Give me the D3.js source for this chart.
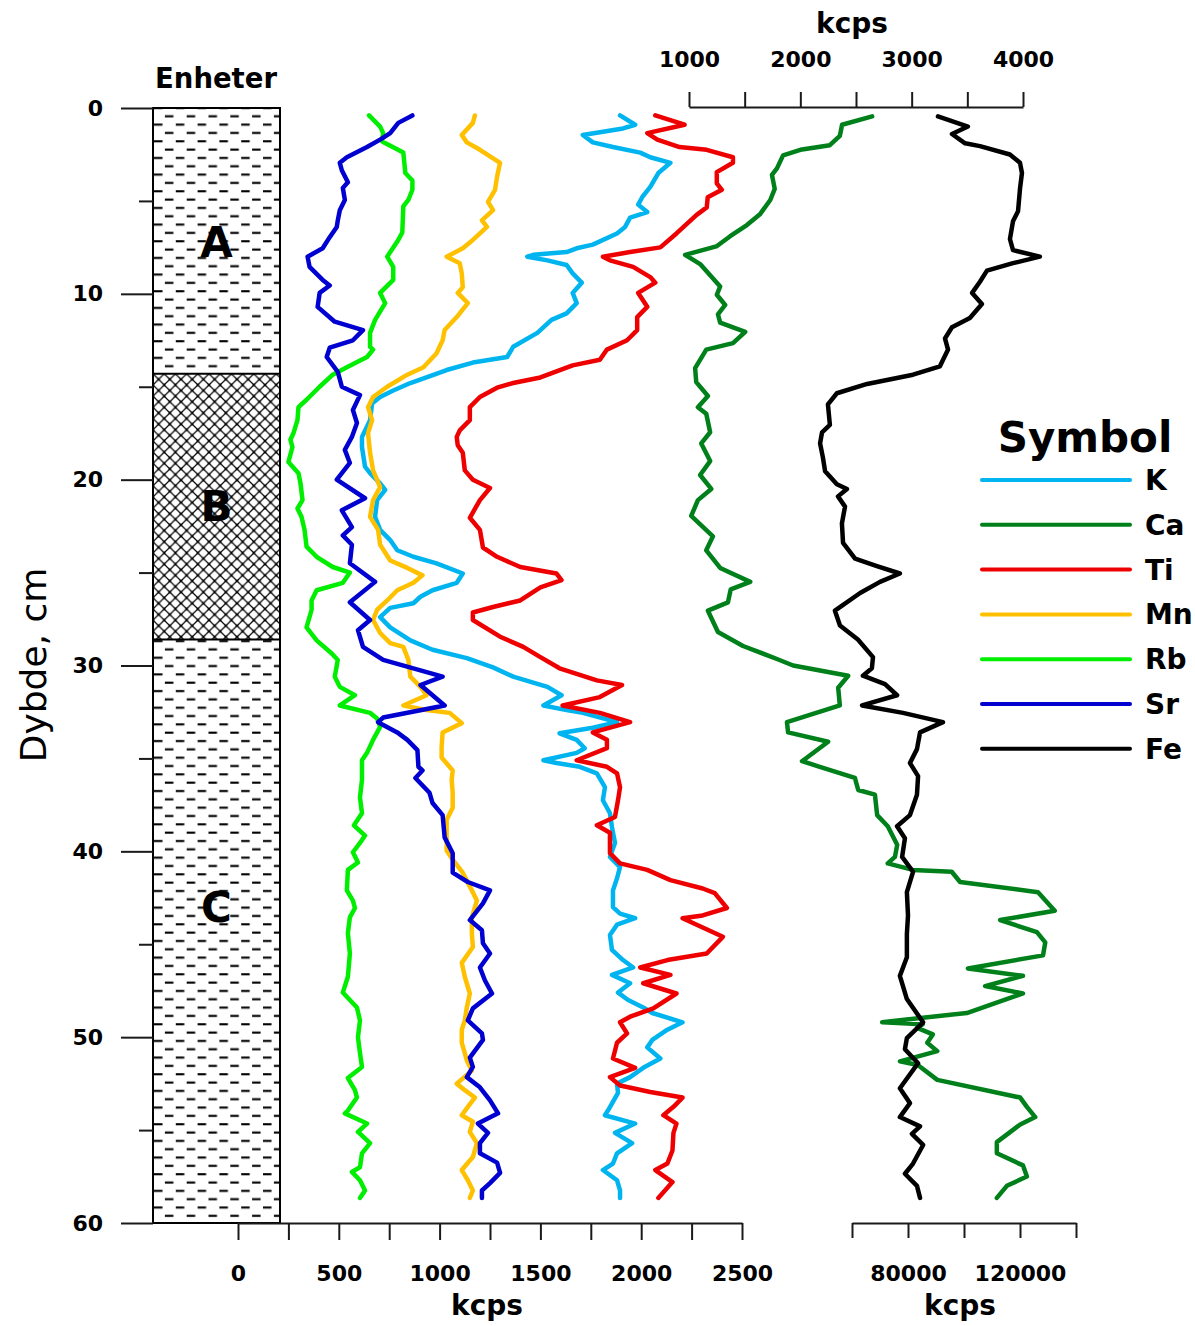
<!DOCTYPE html>
<html><head><meta charset="utf-8">
<script src="https://cdn.jsdelivr.net/npm/d3@7"></script>
<style>
body{margin:0;background:#fff;}
svg{display:block;background:#fff;}
text{font-family:"DejaVu Sans",sans-serif;font-weight:bold;fill:#000;}
</style></head><body>
<svg id="chart" width="1195" height="1326"></svg>
<script>
// ---------------- DATA ----------------
// each series: [depth (cm), value (kcps)]
const kData = [[0.4,1895],[0.9,1970],[1.1,1910],[1.3,1795],[1.45,1710],[1.85,1760],[2.1,1860],[2.4,1995],[2.65,2045],[2.95,2145],[3.5,2085],[4.25,2045],[4.8,2005],[5.2,1985],[5.6,2030],[5.9,1945],[6.4,1920],[6.75,1880],[7.35,1760],[7.55,1680],[7.75,1630],[7.9,1465],[8.0,1435],[8.2,1535],[8.45,1630],[8.9,1660],[9.4,1705],[9.95,1660],[10.5,1680],[11.05,1630],[11.4,1555],[12.1,1485],[12.85,1365],[13.4,1335],[13.7,1165],[14.1,1035],[14.5,935],[14.8,855],[15.2,770],[15.55,705],[15.9,665],[16.8,655],[17.7,615],[18.25,615],[19.3,630],[19.65,655],[20.2,705],[20.55,730],[21.1,690],[22.0,680],[22.7,705],[23.25,755],[23.8,790],[24.15,870],[24.5,985],[25.05,1115],[25.55,1085],[25.95,965],[26.3,905],[26.65,870],[26.9,755],[27.4,705],[27.95,755],[28.65,855],[29.15,965],[29.6,1135],[30.1,1265],[30.6,1365],[31.15,1535],[31.6,1605],[32.15,1515],[32.4,1630],[32.55,1710],[33.05,1880],[33.35,1760],[33.65,1595],[34.0,1680],[34.45,1720],[34.7,1680],[35.1,1515],[35.25,1580],[35.45,1695],[35.8,1780],[36.55,1820],[37.25,1810],[37.95,1845],[38.7,1855],[39.55,1870],[40.3,1845],[40.85,1895],[41.45,1880],[42.1,1860],[43.0,1860],[43.35,1895],[43.6,1970],[43.95,1880],[44.5,1845],[45.3,1855],[45.85,1910],[46.25,1960],[46.65,1855],[47.1,1945],[47.6,1885],[48.0,1935],[48.4,2010],[48.7,2055],[49.2,2205],[49.6,2130],[50.15,2055],[50.55,2030],[51.15,2095],[51.65,2010],[52.15,1945],[52.5,1880],[53.0,1885],[53.95,1835],[54.2,1820],[54.65,1970],[55.15,1870],[55.7,1955],[56.25,1880],[56.8,1860],[57.15,1810],[57.7,1880],[58.25,1895],[58.65,1895]];

const caData = [[0.45,2645],[0.9,2375],[1.5,2355],[2.0,2265],[2.25,2000],[2.55,1845],[3.25,1790],[3.6,1745],[4.35,1770],[4.95,1730],[5.7,1640],[6.3,1520],[6.9,1370],[7.45,1245],[7.9,965],[8.4,1100],[9.6,1280],[10.05,1250],[10.6,1325],[11.1,1260],[11.55,1280],[12.05,1505],[12.65,1395],[13.0,1155],[14.0,1055],[14.75,1065],[15.5,1170],[16.1,1080],[16.45,1155],[17.45,1190],[18.05,1110],[19.0,1190],[19.75,1100],[20.5,1200],[21.1,1080],[21.95,1020],[23.05,1215],[23.8,1155],[24.75,1280],[25.5,1550],[25.9,1375],[26.6,1350],[27.05,1170],[28.2,1260],[28.95,1485],[29.65,1790],[30.0,1935],[30.55,2430],[31.2,2340],[32.15,2355],[33.05,1880],[33.6,1890],[34.1,2250],[35.15,2015],[35.45,2175],[36.05,2490],[36.7,2520],[36.95,2670],[38.05,2690],[38.65,2785],[39.65,2870],[40.3,2850],[40.65,2785],[41.0,3010],[41.1,3360],[41.65,3435],[42.2,4135],[43.2,4285],[43.7,3795],[44.35,4125],[44.9,4200],[45.6,4180],[46.3,3505],[46.7,4000],[47.25,3660],[47.65,4000],[48.7,3495],[48.95,3100],[49.2,2735],[49.3,3100],[49.5,3050],[49.85,3190],[50.3,3140],[50.75,3230],[51.3,2895],[51.5,3055],[52.3,3230],[53.25,3975],[53.75,4035],[54.3,4110],[54.7,3975],[55.65,3765],[56.25,3765],[56.9,4000],[57.5,4035],[58.0,3855],[58.65,3765]];

const tiData = [[0.4,2070],[0.9,2215],[1.35,2030],[1.7,2080],[2.1,2190],[2.25,2325],[2.65,2455],[2.95,2455],[3.45,2375],[4.05,2375],[4.4,2400],[4.8,2330],[5.35,2325],[5.75,2275],[6.75,2175],[7.5,2095],[7.75,1945],[8.0,1810],[8.2,1845],[8.55,1960],[9.1,2045],[9.4,2070],[9.95,1985],[10.7,2030],[11.25,1980],[11.95,1980],[12.5,1930],[13.0,1830],[13.55,1795],[13.85,1660],[14.5,1500],[14.8,1365],[15.05,1285],[15.55,1200],[16.1,1150],[16.8,1150],[17.35,1100],[17.7,1085],[18.15,1090],[18.55,1115],[19.5,1125],[20.0,1165],[20.45,1250],[21.1,1200],[22.05,1150],[22.7,1200],[23.65,1215],[24.15,1285],[24.7,1400],[25.05,1580],[25.4,1605],[25.8,1500],[26.5,1400],[26.85,1265],[27.15,1165],[27.55,1165],[28.45,1300],[29.0,1415],[29.55,1500],[30.15,1595],[30.8,1780],[31.05,1905],[31.7,1795],[32.15,1610],[32.55,1795],[33.05,1945],[33.6,1760],[34.0,1830],[34.45,1830],[35.1,1680],[35.45,1830],[35.8,1880],[36.55,1895],[37.25,1885],[38.15,1870],[38.6,1780],[39.0,1845],[40.1,1845],[40.65,1895],[41.0,2030],[41.55,2145],[42.0,2305],[42.25,2365],[43.05,2425],[43.45,2305],[43.6,2205],[44.1,2305],[44.6,2405],[45.5,2325],[45.85,2130],[46.25,1995],[46.65,2145],[47.1,2010],[47.65,2175],[48.45,2060],[48.9,1945],[49.2,1895],[49.8,1930],[50.3,1880],[51.15,1860],[51.65,1970],[52.15,1845],[52.6,1895],[52.95,2045],[53.25,2205],[53.75,2160],[54.2,2110],[54.65,2175],[55.15,2160],[56.1,2155],[56.8,2130],[57.15,2070],[57.8,2155],[58.65,2085]];

const mnData = [[0.4,1175],[0.8,1165],[1.45,1110],[1.85,1135],[2.25,1200],[2.95,1300],[3.7,1285],[4.4,1275],[5.05,1240],[5.5,1265],[6.05,1210],[6.4,1235],[7.1,1165],[7.55,1115],[8.0,1035],[8.35,1100],[8.9,1110],[9.65,1115],[9.95,1090],[10.5,1140],[11.25,1085],[11.95,1025],[12.5,1015],[13.2,985],[13.95,920],[14.35,840],[15.0,740],[15.55,670],[16.1,645],[16.8,665],[17.5,645],[18.55,655],[19.5,670],[20.4,705],[21.1,670],[22.0,655],[22.7,695],[23.5,705],[24.35,755],[24.75,840],[25.15,915],[25.55,870],[25.95,790],[26.5,740],[27.0,690],[27.55,670],[28.25,705],[28.8,755],[29.0,820],[29.7,845],[30.6,855],[31.15,905],[31.6,935],[32.15,820],[32.4,935],[32.55,1050],[33.1,1110],[33.6,1015],[34.4,1010],[34.95,1010],[35.65,1065],[36.15,1060],[36.85,1065],[37.65,1065],[38.3,1035],[39.25,1035],[39.95,1035],[40.45,1065],[41.15,1115],[42.1,1160],[42.65,1185],[43.55,1160],[44.4,1160],[45.15,1165],[46.0,1110],[46.75,1125],[47.65,1150],[48.4,1135],[49.1,1125],[49.6,1110],[50.3,1110],[51.25,1135],[51.8,1160],[52.5,1085],[52.85,1125],[53.25,1175],[53.75,1140],[54.2,1110],[54.55,1165],[55.1,1150],[55.7,1185],[56.45,1165],[57.15,1110],[57.7,1140],[58.25,1165],[58.65,1150]];

const rbData = [[0.4,650],[1.0,705],[1.35,720],[1.8,715],[2.4,820],[3.5,830],[3.9,865],[4.4,865],[4.95,845],[5.3,820],[6.7,815],[7.1,795],[8.0,740],[8.55,770],[9.25,770],[9.95,705],[10.5,730],[11.4,680],[12.1,655],[12.85,655],[13.0,670],[13.4,640],[13.95,540],[14.35,470],[15.0,405],[15.7,340],[16.1,300],[16.8,295],[17.5,275],[17.85,260],[18.25,270],[19.05,250],[19.65,300],[20.2,310],[21.1,320],[21.55,295],[22.0,315],[22.7,330],[23.6,340],[24.15,390],[24.7,470],[25.0,555],[25.55,520],[25.95,390],[26.5,365],[27.0,365],[27.95,340],[28.65,390],[29.35,465],[29.7,495],[30.6,480],[31.15,505],[31.6,580],[32.15,505],[32.55,655],[32.85,690],[33.3,705],[34.0,670],[34.7,640],[35.1,615],[36.15,615],[37.1,605],[37.95,615],[38.6,575],[39.15,630],[39.55,605],[40.05,570],[40.6,595],[41.0,545],[42.1,540],[42.65,570],[43.05,580],[43.55,555],[44.4,545],[45.5,555],[46.75,545],[47.6,520],[48.4,590],[49.1,605],[50.0,595],[50.85,605],[51.6,615],[52.2,545],[52.85,580],[53.25,590],[53.95,545],[54.1,530],[54.65,640],[55.1,595],[55.7,655],[56.25,615],[57.0,605],[57.25,565],[57.7,605],[58.25,630],[58.65,605]];

const srData = [[0.4,865],[0.8,795],[1.35,755],[1.7,705],[2.1,640],[2.65,540],[2.95,505],[3.35,515],[4.0,545],[4.3,520],[4.95,530],[5.5,505],[6.05,495],[6.4,490],[6.95,455],[7.55,420],[8.0,345],[8.55,355],[9.25,420],[9.55,455],[9.95,405],[10.7,395],[11.5,480],[11.95,620],[12.5,570],[12.9,455],[13.4,440],[14.2,495],[15.0,515],[15.45,605],[16.25,570],[16.95,590],[17.7,565],[18.4,530],[19.1,555],[20.0,490],[21.0,630],[21.65,515],[22.55,565],[23.0,520],[23.5,565],[24.5,555],[25.5,680],[26.6,555],[27.55,655],[28.1,595],[29.0,620],[29.7,720],[30.6,1015],[31.05,905],[32.15,1025],[32.8,720],[33.05,695],[33.6,790],[34.0,840],[34.55,890],[35.45,895],[35.65,915],[36.05,880],[36.85,950],[37.4,965],[38.05,1015],[39.25,1025],[40.1,1065],[41.15,1065],[41.65,1140],[42.1,1250],[42.8,1215],[43.7,1150],[44.25,1210],[44.95,1215],[45.5,1250],[46.25,1200],[46.95,1225],[47.65,1260],[48.45,1165],[49.1,1140],[49.8,1210],[50.15,1215],[51.1,1150],[51.6,1165],[52.15,1135],[52.7,1200],[53.4,1250],[54.1,1290],[54.65,1190],[55.15,1240],[55.7,1200],[56.25,1200],[56.75,1285],[57.3,1300],[57.85,1250],[58.25,1210],[58.65,1210]];

const feData = [[0.45,90700],[1.0,101400],[1.4,95700],[1.9,100400],[2.05,105700],[2.5,116400],[2.95,120000],[3.5,120700],[4.35,120000],[5.55,119300],[6.1,117500],[7.05,116400],[7.65,117500],[8.0,127100],[8.35,117500],[8.75,108200],[9.35,105700],[9.95,102900],[10.55,106400],[11.3,102100],[11.8,95700],[12.4,93200],[13.0,94300],[13.9,91400],[14.35,81800],[14.85,65400],[15.35,54600],[15.95,51400],[17.05,52100],[17.45,49300],[18.05,48600],[18.8,49600],[19.55,50400],[20.25,54600],[20.5,58200],[20.9,55000],[21.45,57500],[22.35,56400],[23.4,56800],[24.25,61100],[24.65,68900],[25.05,77100],[25.5,70000],[26.1,62900],[27.05,53900],[27.85,55700],[28.6,62100],[29.55,67500],[30.15,67100],[30.55,63900],[31.0,71800],[31.6,76100],[32.15,63600],[32.55,78200],[33.05,92500],[33.6,84300],[34.5,83200],[35.25,80700],[35.95,83600],[36.95,83200],[38.05,80700],[38.65,76100],[39.3,78900],[40.3,77900],[41.1,81800],[42.2,79600],[43.45,80000],[44.45,79600],[45.7,79600],[46.7,77100],[47.95,79600],[49.2,85400],[50.05,79600],[50.65,78900],[51.4,83600],[52.75,77100],[53.55,80700],[54.3,77100],[54.8,84300],[55.2,81400],[55.8,85400],[56.8,81800],[57.35,78900],[58.0,83200],[58.65,84300]];

const seriesNames = ['K','Ca','Ti','Mn','Rb','Sr','Fe'];
const seriesColors = ['#00b4f0','#00801a','#ee0000','#ffc000','#00ee00','#0000d0','#000000'];

const units = ['A','B','C'];
const unitTop = [0, 14.3, 28.6];
const unitBottom = [14.3, 28.6, 60];
const unitLabelDepth = [7.2, 21.4, 43.0];
const unitFill = ['dash','cross','dash'];

const depthTicks = d3.range(0, 61, 5);
const lowerTicks = d3.range(0, 2501, 250);
const feTicks = [60000, 80000, 100000, 120000, 140000];
const caTicks = d3.range(1000, 4001, 500);

// ---------------- CHART ----------------
const svg = d3.select('#chart');
const colL = 153, colR = 280;
const y = d3.scaleLinear().domain([0, 60]).range([108, 1223]);
const xL = d3.scaleLinear().domain([0, 2500]).range([238, 742]);
const xCa = d3.scaleLinear().domain([1000, 4000]).range([689, 1023]);
const xFe = d3.scaleLinear().domain([60000, 140000]).range([852, 1076]);

const defs = svg.append('defs');
const pd = defs.append('pattern').attr('id','dash').attr('patternUnits','userSpaceOnUse')
  .attr('x', colL).attr('y', 108 - 4.17).attr('width', 21.8).attr('height', 16.66);
pd.append('rect').attr('x',1).attr('y',3.1).attr('width',8.5).attr('height',2.1).attr('fill','#000');
pd.append('rect').attr('x',11.9).attr('y',11.4).attr('width',8.5).attr('height',2.1).attr('fill','#000');

const pc = defs.append('pattern').attr('id','cross').attr('patternUnits','userSpaceOnUse')
  .attr('x', colL).attr('y', y(14.3)).attr('width', 11.2).attr('height', 11.2);
pc.append('path').attr('d','M-1,-1L12.2,12.2M12.2,-1L-1,12.2').attr('stroke','#000').attr('stroke-width',1.2).attr('fill','none');
[[0,0],[11.2,0],[0,11.2],[11.2,11.2],[5.6,5.6]].forEach(p=>{
  pc.append('rect').attr('x',p[0]-1.2).attr('y',p[1]-1.2).attr('width',2.4).attr('height',2.4).attr('fill','#000');
});

// lithology column
const gCol = svg.append('g');
units.forEach((u,i)=>{
  gCol.append('rect').attr('x',colL).attr('y',y(unitTop[i])).attr('width',colR-colL)
    .attr('height',y(unitBottom[i])-y(unitTop[i])).attr('fill','#fff');
  gCol.append('rect').attr('x',colL).attr('y',y(unitTop[i])).attr('width',colR-colL)
    .attr('height',y(unitBottom[i])-y(unitTop[i])).attr('fill','url(#'+unitFill[i]+')');
});
units.forEach((u,i)=>{
  if(i>0) gCol.append('line').attr('x1',colL).attr('x2',colR).attr('y1',y(unitTop[i])).attr('y2',y(unitTop[i]))
    .attr('stroke','#000').attr('stroke-width',2);
});
gCol.append('rect').attr('x',colL).attr('y',y(0)).attr('width',colR-colL).attr('height',y(60)-y(0))
  .attr('fill','none').attr('stroke','#000').attr('stroke-width',2);
units.forEach((u,i)=>{
  gCol.append('text').attr('x',(colL+colR)/2).attr('y',y(unitLabelDepth[i])+15)
    .attr('text-anchor','middle').attr('font-size',42).text(u);
});
svg.append('text').attr('x',216).attr('y',88).attr('text-anchor','middle').attr('font-size',27.5).text('Enheter');

function styleAxis(g, fs){
  g.attr('font-family',null).attr('font-size',null).attr('color','#1a1a1a');
  g.selectAll('line,path').attr('stroke-width',2);
  g.selectAll('text').attr('font-size',fs).style('font-weight','bold').attr('fill','#000');
}

// depth axis
const gY = svg.append('g').attr('transform',`translate(${colL},0)`)
  .call(d3.axisLeft(y).tickValues(depthTicks).tickSize(32).tickPadding(18)
    .tickFormat(d => d % 10 === 0 ? d : ''));
styleAxis(gY, 22);
gY.select('.domain').remove();
gY.selectAll('.tick').filter(d => d % 10 !== 0).select('line').attr('x2', -14);

// lower left axis
const gB = svg.append('g').attr('transform','translate(0,1223)')
  .call(d3.axisBottom(xL).tickValues(lowerTicks).tickSize(17).tickSizeOuter(0).tickPadding(25)
    .tickFormat(d => d % 500 === 0 ? d : ''));
styleAxis(gB, 22);

// lower right axis (Fe)
const gF = svg.append('g').attr('transform','translate(0,1223)')
  .call(d3.axisBottom(xFe).tickValues(feTicks).tickSize(15).tickSizeOuter(0).tickPadding(27)
    .tickFormat(d => (d === 80000 || d === 120000) ? d : ''));
styleAxis(gF, 22);

// top axis (Ca)
const gT = svg.append('g').attr('transform','translate(0,107)')
  .call(d3.axisTop(xCa).tickValues(caTicks).tickSize(15).tickSizeOuter(0).tickPadding(25)
    .tickFormat(d => d % 1000 === 0 ? d : ''));
styleAxis(gT, 22);

svg.append('text').attr('x',487).attr('y',1315).attr('text-anchor','middle').attr('font-size',28).text('kcps');
svg.append('text').attr('x',960).attr('y',1315).attr('text-anchor','middle').attr('font-size',28).text('kcps');
svg.append('text').attr('x',852).attr('y',33).attr('text-anchor','middle').attr('font-size',28).text('kcps');

svg.append('text').attr('transform','translate(46,665) rotate(-90)').attr('text-anchor','middle')
  .attr('font-size',36).style('font-weight','normal').text('Dybde, cm');

// series
const seriesData = [kData, caData, tiData, mnData, rbData, srData, feData];
const seriesScale = [xL, xCa, xL, xL, xL, xL, xFe];
const gS = svg.append('g');
seriesNames.forEach((n,i)=>{
  const sc = seriesScale[i];
  const line = d3.line().x(d => sc(d[1])).y(d => y(d[0]));
  gS.append('path').datum(seriesData[i]).attr('d', line).attr('fill','none')
    .attr('stroke', seriesColors[i]).attr('stroke-width', 4.5)
    .attr('stroke-linejoin','round').attr('stroke-linecap','round');
});

// legend
const gL = svg.append('g');
gL.append('text').attr('x',1085).attr('y',452).attr('text-anchor','middle').attr('font-size',42).text('Symbol');
seriesNames.forEach((n,i)=>{
  const ly = 480 + i*44.8;
  gL.append('line').attr('x1',982).attr('x2',1130).attr('y1',ly).attr('y2',ly)
    .attr('stroke',seriesColors[i]).attr('stroke-width',4).attr('stroke-linecap','round');
  gL.append('text').attr('x',1145).attr('y',ly+10).attr('font-size',28).text(n);
});
</script>
</body></html>
